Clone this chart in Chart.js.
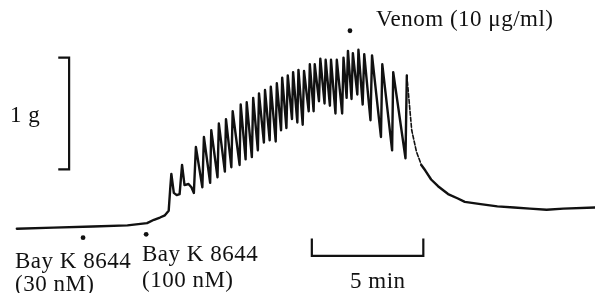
<!DOCTYPE html>
<html><head><meta charset="utf-8">
<script src="https://cdn.jsdelivr.net/npm/chart.js@4/dist/chart.umd.min.js"></script>
<style>html,body{margin:0;padding:0;background:#fff}#wrap{width:599px;height:293px;position:relative}</style>
</head><body><div id="wrap"><canvas id="c"></canvas></div>
<script>
// Isometric tension trace: time (min) vs tension (g above initial baseline)
const timeMin = [0,1.64,3.41,4.96,5.84,6.15,6.42,6.64,6.81,6.88,6.93,7.04,7.17,7.30,7.41,7.52,7.70,7.83,7.94,8.03,8.32,8.39,8.67,8.72,9.00,9.06,9.33,9.38,9.62,9.68,9.99,10.04,10.26,10.31,10.54,10.60,10.81,10.86,11.08,11.13,11.34,11.39,11.61,11.66,11.85,11.90,12.09,12.15,12.34,12.39,12.58,12.63,12.82,12.88,13.09,13.14,13.31,13.36,13.55,13.61,13.80,13.85,14.04,14.09,14.29,14.35,14.59,14.65,14.79,14.85,15.01,15.07,15.27,15.32,15.51,15.58,15.86,15.93,16.33,16.39,16.83,16.88,17.43,17.49,17.71,17.92,18.14,18.32,18.58,18.89,19.34,19.78,20.09,20.80,21.55,22.30,23.01,23.76,24.51,25.93];
const tensionG = [0,0.01,0.02,0.03,0.05,0.08,0.10,0.12,0.16,0.36,0.49,0.32,0.30,0.31,0.57,0.39,0.40,0.37,0.32,0.73,0.37,0.82,0.41,0.88,0.46,0.94,0.51,0.98,0.55,1.05,0.57,1.11,0.62,1.13,0.64,1.17,0.70,1.21,0.77,1.24,0.79,1.27,0.78,1.30,0.88,1.35,0.90,1.37,0.98,1.40,0.95,1.42,0.93,1.41,1.05,1.47,1.05,1.47,1.14,1.52,1.12,1.51,1.10,1.51,1.03,1.51,1.03,1.53,1.17,1.59,1.16,1.57,1.20,1.60,1.11,1.56,0.97,1.55,0.82,1.47,0.70,1.40,0.63,1.37,0.88,0.69,0.57,0.52,0.44,0.38,0.31,0.27,0.24,0.22,0.20,0.19,0.18,0.17,0.18,0.19];

// Drug additions (time, tension level of the marker dot)
const additionTimes = [2.97, 5.80, 14.94];
const additionDots = [-0.08, -0.05, 1.77];
const additionLabels = [["Bay K 8644", "(30 nM)"], ["Bay K 8644", "(100 nM)"], ["Venom (10 μg/ml)"]];

// Calibration bars
const tensionBarG = 1;      // 1 g
const timeBarMin = 5;       // 5 min
const tensionBarLabel = "1 g";
const timeBarLabel = "5 min";
</script>
<script>
const ink = '#111';
const gBarT = 2.345, gBarTick = 1.858, gBarLow = 0.53;
const tBarStart = 13.23, tBarY = -0.243, tBarTickY = -0.087;

const gBar = [
  {x: gBarTick, y: gBarLow + tensionBarG}, {x: gBarT, y: gBarLow + tensionBarG},
  {x: gBarT, y: gBarLow}, {x: gBarTick, y: gBarLow}
];
const tBar = [
  {x: tBarStart, y: tBarTickY}, {x: tBarStart, y: tBarY},
  {x: tBarStart + timeBarMin, y: tBarY}, {x: tBarStart + timeBarMin, y: tBarTickY}
];

const textLayout = [
  {lines: additionLabels[0], x: 15, y: 268, dy: 23},
  {lines: additionLabels[1], x: 142, y: 261, dy: 26},
  {lines: additionLabels[2], x: 376, y: 26, dy: 0},
  {lines: [tensionBarLabel], x: 10, y: 122, dy: 0},
  {lines: [timeBarLabel], x: 350, y: 288, dy: 0}
];

const labelPlugin = {
  id: 'traceLabels',
  afterDatasetsDraw(chart) {
    const ctx = chart.ctx;
    ctx.save();
    ctx.fillStyle = ink;
    ctx.font = '23px "Liberation Serif", "Times New Roman", serif';
    if ('letterSpacing' in ctx) ctx.letterSpacing = '0.5px';
    ctx.textBaseline = 'alphabetic';
    ctx.textAlign = 'left';
    textLayout.forEach(l => {
      l.lines.forEach((s, i) => ctx.fillText(s, l.x, l.y + i * l.dy));
    });
    ctx.restore();
  }
};

new Chart(document.getElementById('c'), {
  type: 'scatter',
  data: {
    datasets: [
      {
        data: timeMin.map((t, i) => ({x: t, y: tensionG[i]})),
        showLine: true, borderColor: ink, borderWidth: 2.4, pointRadius: 0,
        borderJoinStyle: 'round', borderCapStyle: 'round',
        segment: {
          borderDash: c => (c.p0.parsed.x >= 17.4 && c.p1.parsed.x <= 18.2 && c.p1.parsed.y < c.p0.parsed.y) ? [4, 2] : undefined,
          borderWidth: c => (c.p0.parsed.x >= 17.4 && c.p1.parsed.x <= 18.2 && c.p1.parsed.y < c.p0.parsed.y) ? 1.6 : undefined
        }
      },
      {data: gBar, showLine: true, borderColor: ink, borderWidth: 2.2, pointRadius: 0},
      {data: tBar, showLine: true, borderColor: ink, borderWidth: 2.2, pointRadius: 0},
      {data: additionTimes.map((t, i) => ({x: t, y: additionDots[i]})), showLine: false,
       pointRadius: 2.4, backgroundColor: ink, borderColor: ink, borderWidth: 0}
    ]
  },
  options: {
    responsive: true, maintainAspectRatio: false, animation: false,
    layout: {padding: 0},
    plugins: {legend: {display: false}, tooltip: {enabled: false}},
    scales: {
      x: {type: 'linear', display: false, min: -0.5752, max: 25.929},
      y: {type: 'linear', display: false, min: -0.539, max: 2.009}
    }
  },
  plugins: [labelPlugin]
});
</script>
</body></html>
